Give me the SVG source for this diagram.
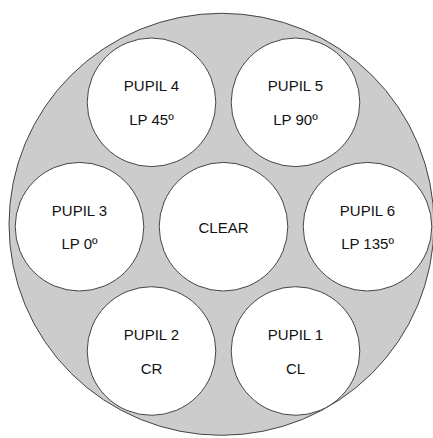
<svg xmlns="http://www.w3.org/2000/svg" width="433" height="438" viewBox="0 0 433 438">
<style>
.outer{fill:#cccccc;stroke:#444444;stroke-width:1}
.pupil{fill:#ffffff;stroke:#444444;stroke-width:1}
text{font-family:"Liberation Sans",Arial,sans-serif;font-size:15px;fill:#111111;text-anchor:middle}
</style>
<rect width="433" height="438" fill="#ffffff"/>
<g id="wheel"><ellipse class="outer" cx="221.5" cy="224.3" rx="212.5" ry="211"/></g>
<g id="connectors"></g>
<g id="pupil4"><circle class="pupil" cx="151.5" cy="102.3" r="64.3"/><text x="151.5" y="91">PUPIL 4</text><text x="151.5" y="124.5">LP 45º</text></g>
<g id="pupil5"><circle class="pupil" cx="295.5" cy="102.3" r="64.3"/><text x="295.5" y="91">PUPIL 5</text><text x="295.5" y="124.5">LP 90º</text></g>
<g id="pupil3"><circle class="pupil" cx="79.5" cy="226.7" r="64.3"/><text x="79.5" y="215.5">PUPIL 3</text><text x="79.5" y="249.3">LP 0º</text></g>
<g id="clear"><circle class="pupil" cx="223.5" cy="226.7" r="64.3"/><text x="223.5" y="232.7">CLEAR</text></g>
<g id="pupil6"><circle class="pupil" cx="367.5" cy="226.7" r="64.3"/><text x="367.5" y="215.5">PUPIL 6</text><text x="367.5" y="249.3">LP 135º</text></g>
<g id="pupil2"><circle class="pupil" cx="151.5" cy="351" r="64.3"/><text x="151.5" y="340">PUPIL 2</text><text x="151.5" y="374">CR</text></g>
<g id="pupil1"><circle class="pupil" cx="295.5" cy="351" r="64.3"/><text x="295.5" y="340">PUPIL 1</text><text x="295.5" y="374">CL</text></g>
</svg>
